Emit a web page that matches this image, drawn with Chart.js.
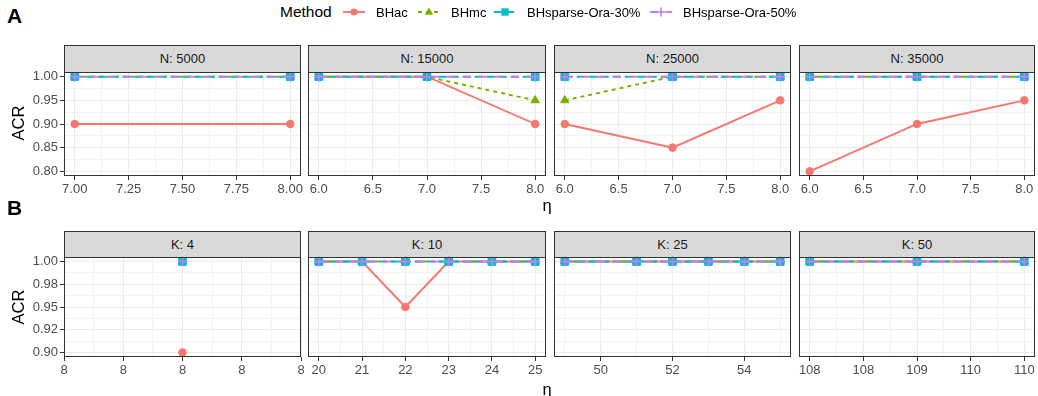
<!DOCTYPE html>
<html><head><meta charset="utf-8">
<script src="https://cdn.jsdelivr.net/npm/chart.js@4.4.0/dist/chart.umd.min.js"></script>
<style>
body{margin:0;background:#fff;width:1038px;height:396px;position:relative;overflow:hidden;font-family:"Liberation Sans",Arial,sans-serif;}
.t{position:absolute;white-space:nowrap;line-height:1;}
.strip{position:absolute;background:#D9D9D9;border:1px solid #333;box-sizing:border-box;text-align:center;color:#1A1A1A;font-size:13px;}
canvas{position:absolute}
</style></head><body>
<div id="root"></div>
<script>
// ---------- data ----------
const methods = ["BHac","BHmc","BHsparse-Ora-30%","BHsparse-Ora-50%"];

// Panel row A (facet by N)
const stripA = ["N: 5000","N: 15000","N: 25000","N: 35000"];
const etaA   = [[7,8],[6,7,8],[6,7,8],[6,7,8]];
const bhacA  = [[0.90,0.90],[1.00,1.00,0.90],[0.90,0.85,0.95],[0.80,0.90,0.95]];
const bhmcA  = [[1.00,1.00],[1.00,1.00,0.95],[0.95,1.00,1.00],[1.00,1.00,1.00]];
const ora30A = [[1.00,1.00],[1.00,1.00,1.00],[1.00,1.00,1.00],[1.00,1.00,1.00]];
const ora50A = [[1.00,1.00],[1.00,1.00,1.00],[1.00,1.00,1.00],[1.00,1.00,1.00]];
const xTicksA  = [[7,7.25,7.5,7.75,8],[6,6.5,7,7.5,8],[6,6.5,7,7.5,8],[6,6.5,7,7.5,8]];
const xLabelsA = [["7.00","7.25","7.50","7.75","8.00"],["6.0","6.5","7.0","7.5","8.0"],["6.0","6.5","7.0","7.5","8.0"],["6.0","6.5","7.0","7.5","8.0"]];
const yTicksA  = [0.80,0.85,0.90,0.95,1.00];
const yLabelsA = ["0.80","0.85","0.90","0.95","1.00"];

// Panel row B (facet by K)
const stripB = ["K: 4","K: 10","K: 25","K: 50"];
const etaB   = [[8],[20,21,22,23,24,25],[49,51,52,53,54,55],[108,109,110]];
const bhacB  = [[0.90],[1.00,1.00,0.95,1.00,1.00,1.00],[1.00,1.00,1.00,1.00,1.00,1.00],[1.00,1.00,1.00]];
const bhmcB  = [[1.00],[1.00,1.00,1.00,1.00,1.00,1.00],[1.00,1.00,1.00,1.00,1.00,1.00],[1.00,1.00,1.00]];
const ora30B = [[1.00],[1.00,1.00,1.00,1.00,1.00,1.00],[1.00,1.00,1.00,1.00,1.00,1.00],[1.00,1.00,1.00]];
const ora50B = [[1.00],[1.00,1.00,1.00,1.00,1.00,1.00],[1.00,1.00,1.00,1.00,1.00,1.00],[1.00,1.00,1.00]];
const xTicksB  = [[7.5,7.75,8,8.25,8.5],[20,21,22,23,24,25],[50,52,54],[108,108.5,109,109.5,110]];
const xLabelsB = [["8","8","8","8","8"],["20","21","22","23","24","25"],["50","52","54"],["108","108","109","110","110"]];
const yTicksB  = [0.900,0.925,0.950,0.975,1.000];
const yLabelsB = ["0.90","0.92","0.95","0.98","1.00"];

// ---------- styles ----------
const sColors = ["#F8766D","#7CAE00","#00BFC4","#C77CFF"];
const sDash   = [[],[4,4],[8,4],[8,8]];
const sPoint  = ["circle","triangle","rect","cross"];
const sRadius = [3.8,4.8,5.4,4.8];
const FONT = "'Liberation Sans', Arial, sans-serif";
Chart.defaults.font.family = FONT;

const colLeft  = [64,308,554,799];
const colRight = [301,546,791,1035];
const rows = [
  {stripTop:45, panelTop:72, panelBottom:176, strips:stripA, eta:etaA, series:[bhacA,bhmcA,ora30A,ora50A], xt:xTicksA, xl:xLabelsA, yt:yTicksA, yl:yLabelsA},
  {stripTop:231, panelTop:257, panelBottom:357, strips:stripB, eta:etaB, series:[bhacB,bhmcB,ora30B,ora50B], xt:xTicksB, xl:xLabelsB, yt:yTicksB, yl:yLabelsB}
];

function expand(lo, hi){
  if (hi === lo) return [lo-0.5, hi+0.5];
  const d = (hi-lo)*0.05; return [lo-d, hi+d];
}
function withMinor(major, lim){
  const all = major.map(v=>({v, major:true}));
  const step = major.length>1 ? major[1]-major[0] : 0;
  if (step>0){
    for (let i=-1;i<major.length;i++){
      const m = major[0] + step*(i+0.5);
      if (m>lim[0]+1e-9 && m<lim[1]-1e-9) all.push({v:m, major:false});
    }
  }
  return all.sort((a,b)=>a.v-b.v);
}
function isMajor(list, v){ return list.some(t=>Math.abs(t-v)<1e-9); }
function labelFor(ticks, labels, v){
  const i = ticks.findIndex(t=>Math.abs(t-v)<1e-9); return i>=0 ? labels[i] : '';
}

const borderPlugin = {
  id:'panelBorder',
  afterDatasetsDraw(chart){
    const a = chart.chartArea, c = chart.ctx;
    c.save(); c.strokeStyle='#333333'; c.lineWidth=1;
    c.strokeRect(Math.round(a.left)+0.5, Math.round(a.top)+0.5, Math.round(a.right-a.left)-1, Math.round(a.bottom-a.top)-1);
    c.restore();
  }
};

const root = document.getElementById('root');
rows.forEach((row, r) => {
  const allY = row.series.flat(2);
  const yLim = expand(Math.min(...allY), Math.max(...allY));
  const yAll = withMinor(row.yt, yLim);
  for (let p=0;p<4;p++){
    const pw = colRight[p]-colLeft[p], ph = row.panelBottom-row.panelTop;
    const L = p===0 ? 64 : 18, R = 18, T = 10, XH = 28;
    // strip
    const s = document.createElement('div');
    s.className='strip';
    s.style.left = colLeft[p]+'px'; s.style.top=row.stripTop+'px';
    s.style.width=(pw)+'px'; s.style.height=(row.panelTop-row.stripTop+1)+'px';
    s.style.lineHeight=(row.panelTop-row.stripTop-1)+'px';
    s.textContent = row.strips[p];
    root.appendChild(s);
    // canvas
    const cv = document.createElement('canvas');
    const W = L+pw+R, H = T+ph+XH;
    cv.width=W; cv.height=H;
    cv.style.left=(colLeft[p]-L)+'px'; cv.style.top=(row.panelTop-T)+'px';
    cv.style.width=W+'px'; cv.style.height=H+'px';
    root.appendChild(cv);
    const eta = row.eta[p];
    const xLim = expand(Math.min(...eta), Math.max(...eta));
    const xAll = withMinor(row.xt[p], xLim);
    const datasets = methods.map((m, k) => ({
      label: m,
      data: eta.map((x,i)=>({x, y: row.series[k][p][i]})),
      borderColor: sColors[k], backgroundColor: sColors[k],
      pointBackgroundColor: sColors[k], pointBorderColor: sColors[k],
      borderWidth: 1.9, borderDash: sDash[k],
      pointStyle: sPoint[k], pointRadius: sRadius[k], pointBorderWidth: k===3?1.6:1,
      order: 4-k, clip: false, tension: 0
    }));
    const xColor = ctx => isMajor(row.xt[p], ctx.tick.value) ? '#EBEBEB' : '#F2F2F2';
    const yColor = ctx => isMajor(row.yt, ctx.tick.value) ? '#EBEBEB' : '#F2F2F2';
    new Chart(cv, {
      type:'line',
      data:{datasets},
      plugins:[borderPlugin],
      options:{
        responsive:false, animation:false, devicePixelRatio:1,
        layout:{padding:{left:0,right:R,top:T,bottom:0}},
        plugins:{legend:{display:false}, tooltip:{enabled:false}},
        scales:{
          x:{
            type:'linear', position:'bottom', min:xLim[0], max:xLim[1],
            afterBuildTicks: sc => { sc.ticks = xAll.map(t=>({value:t.v})); },
            afterFit: sc => { sc.height = XH; },
            ticks:{autoSkip:false, maxRotation:0, minRotation:0, padding:2, color:'#4D4D4D',
              font:{size:13, family:FONT},
              callback: v => labelFor(row.xt[p], row.xl[p], v)},
            grid:{color:xColor, lineWidth:1, drawTicks:true, tickLength:4,
              tickColor: ctx => isMajor(row.xt[p], ctx.tick.value) ? '#333333' : 'rgba(0,0,0,0)', tickWidth:1},
            border:{display:false}
          },
          y:{
            type:'linear', position:'left', min:yLim[0], max:yLim[1],
            afterBuildTicks: sc => { sc.ticks = yAll.map(t=>({value:t.v})); },
            afterFit: sc => { sc.width = L; },
            ticks:{display: p===0, autoSkip:false, padding:2, color:'#4D4D4D',
              font:{size:13, family:FONT},
              callback: v => labelFor(row.yt, row.yl, v)},
            grid:{color:yColor, lineWidth:1, drawTicks: p===0, tickLength:4,
              tickColor: ctx => isMajor(row.yt, ctx.tick.value) ? '#333333' : 'rgba(0,0,0,0)', tickWidth:1},
            border:{display:false}
          }
        }
      }
    });
  }
});

// ---------- shared text: tags, axis titles, legend ----------
function addText(txt, css){
  const d=document.createElement('div'); d.className='t'; d.textContent=txt;
  Object.assign(d.style, css); root.appendChild(d); return d;
}
addText('A',{left:'7px',top:'5px',fontSize:'21px',fontWeight:'bold',color:'#000'});
addText('B',{left:'7px',top:'197px',fontSize:'21px',fontWeight:'bold',color:'#000'});
addText('ACR',{left:'18px',top:'123px',fontSize:'16.5px',color:'#000',transform:'translate(-50%,-50%) rotate(-90deg)'});
addText('ACR',{left:'18px',top:'307px',fontSize:'16.5px',color:'#000',transform:'translate(-50%,-50%) rotate(-90deg)'});
addText('η',{left:'547px',top:'197px',fontSize:'16.5px',color:'#000',transform:'translateX(-50%)'});
addText('η',{left:'547px',top:'381px',fontSize:'16.5px',color:'#000',transform:'translateX(-50%)'});
addText('Method',{left:'280px',top:'4px',fontSize:'15.5px',color:'#000'});

const keyLeft = [343,418,494,650];
const textLeft = [376,451,527,683];
function keySvg(k){
  const c=sColors[k], dash=sDash[k].join(',');
  let mark='';
  if (sPoint[k]==='circle') mark=`<circle cx="11" cy="8" r="3.6" fill="${c}"/>`;
  if (sPoint[k]==='triangle') mark=`<polygon points="11,3.5 15.2,10.8 6.8,10.8" fill="${c}"/>`;
  if (sPoint[k]==='rect') mark=`<rect x="7.3" y="4.3" width="7.4" height="7.4" fill="${c}"/>`;
  if (sPoint[k]==='cross') mark=`<path d="M11 3.4V12.6M6.4 8H15.6" stroke="${c}" stroke-width="1.6"/>`;
  return `<svg width="22" height="16" xmlns="http://www.w3.org/2000/svg"><line x1="0" y1="8" x2="22" y2="8" stroke="${c}" stroke-width="1.9" ${dash?`stroke-dasharray="${dash}"`:''}/>${mark}</svg>`;
}
methods.forEach((m,k)=>{
  const d=document.createElement('div'); d.style.position='absolute';
  d.style.left=keyLeft[k]+'px'; d.style.top='4px'; d.innerHTML=keySvg(k); root.appendChild(d);
  addText(m,{left:textLeft[k]+'px',top:'5.5px',fontSize:'13px',color:'#000'});
});
</script>
</body></html>
